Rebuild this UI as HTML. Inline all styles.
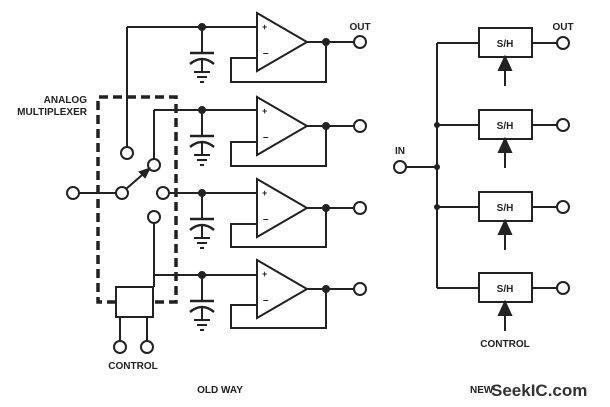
<!DOCTYPE html>
<html><head><style>html,body{margin:0;padding:0;background:#fff}svg{display:block}</style></head><body>
<svg width="610" height="407" viewBox="0 0 610 407" xmlns="http://www.w3.org/2000/svg" font-family="Liberation Sans, sans-serif" font-weight="bold" fill="none" stroke="#222" stroke-width="2">
<defs>
<g id="amp">
<path d="M0,-29 L0,29 L50,0 Z" fill="#fff"/>
<text x="5" y="-12" font-size="9" fill="#222" stroke="none">+</text>
<text x="6" y="14" font-size="10" fill="#222" stroke="none">–</text>
</g>
<g id="cap">
<line x1="0" y1="0" x2="0" y2="26"/>
<line x1="-12" y1="26" x2="12" y2="26" stroke-width="2.5"/>
<path d="M-12,37 Q0,27 12,37" stroke-width="2.5"/>
<line x1="0" y1="32" x2="0" y2="45"/>
<line x1="-8" y1="45" x2="8" y2="45"/>
<line x1="-5" y1="50" x2="5" y2="50"/>
<line x1="-2" y1="55" x2="2" y2="55"/>
</g>
</defs>
<!-- Old way rows -->
<g>
<line x1="127" y1="27" x2="257" y2="27"/><use href="#amp" x="257" y="42"/><use href="#cap" x="202" y="27"/>
<circle cx="202" cy="27" r="3" fill="#222"/>
<line x1="307" y1="42" x2="354" y2="42"/><circle cx="326" cy="42" r="3" fill="#222"/>
<polyline points="326,42 326,82 231,82 231,58 257,58"/><circle cx="360" cy="42" r="6" fill="#fff"/>
<line x1="127" y1="27" x2="127" y2="147"/><circle cx="127" cy="153" r="6" fill="#fff"/>
</g>
<g>
<line x1="154" y1="110" x2="257" y2="110"/><use href="#amp" x="257" y="126"/><use href="#cap" x="202" y="110"/>
<circle cx="202" cy="110" r="3" fill="#222"/>
<line x1="307" y1="126" x2="354" y2="126"/><circle cx="326" cy="126" r="3" fill="#222"/>
<polyline points="326,126 326,166 231,166 231,142 257,142"/><circle cx="360" cy="126" r="6" fill="#fff"/>
<line x1="154" y1="110" x2="154" y2="159"/><circle cx="154" cy="165" r="6" fill="#fff"/>
</g>
<g>
<line x1="169" y1="193" x2="257" y2="193"/><use href="#amp" x="257" y="208"/><use href="#cap" x="202" y="193"/>
<circle cx="202" cy="193" r="3" fill="#222"/>
<line x1="307" y1="208" x2="354" y2="208"/><circle cx="326" cy="208" r="3" fill="#222"/>
<polyline points="326,208 326,247 231,247 231,224 257,224"/><circle cx="360" cy="208" r="6" fill="#fff"/>
<circle cx="163" cy="193" r="6" fill="#fff"/>
</g>
<g>
<line x1="154" y1="275" x2="257" y2="275"/><use href="#amp" x="257" y="289"/><use href="#cap" x="202" y="275"/>
<circle cx="202" cy="275" r="3" fill="#222"/>
<line x1="307" y1="289" x2="354" y2="289"/><circle cx="326" cy="289" r="3" fill="#222"/>
<polyline points="326,289 326,328 231,328 231,305 257,305"/><circle cx="360" cy="289" r="6" fill="#fff"/>
<line x1="154" y1="223" x2="154" y2="287"/><circle cx="154" cy="217" r="6" fill="#fff"/>
</g>
<!-- switch -->
<line x1="79" y1="193" x2="116" y2="193"/><circle cx="73" cy="193" r="6" fill="#fff"/><circle cx="122" cy="193" r="6" fill="#fff"/>
<line x1="126" y1="189" x2="149" y2="169"/><path d="M149,169 L140,172 L145,177 Z" fill="#222"/>
<!-- dashed box -->
<path d="M116,302 H98 V97 H176 V302 H153" stroke-width="3.5" stroke-dasharray="9,5"/>
<rect x="116" y="287" width="37" height="30" fill="#fff"/>
<line x1="120" y1="317" x2="120" y2="341"/><line x1="147" y1="317" x2="147" y2="341"/>
<circle cx="120" cy="347" r="6" fill="#fff"/><circle cx="147" cy="347" r="6" fill="#fff"/>
<!-- new way -->
<line x1="437" y1="43" x2="437" y2="288"/>
<line x1="406" y1="167" x2="437" y2="167"/><circle cx="400" cy="167" r="6" fill="#fff"/>
<g fill="#222" stroke="none"><circle cx="437" cy="125" r="3"/><circle cx="437" cy="167" r="3"/><circle cx="437" cy="207" r="3"/></g>
<g id="sh">
<line x1="437" y1="43" x2="479" y2="43"/><rect x="479" y="28" width="53" height="29"/>
<line x1="532" y1="43" x2="557" y2="43"/><circle cx="563" cy="43" r="6" fill="#fff"/>
<line x1="505" y1="66" x2="505" y2="86"/><path d="M505,57 L499,70 L511,70 Z" fill="#222"/>
</g>
<use href="#sh" y="82"/><use href="#sh" y="164"/><use href="#sh" y="245"/>
<g fill="#222" stroke="none" font-size="10">
<text x="505" y="47" text-anchor="middle">S/H</text><text x="505" y="129" text-anchor="middle">S/H</text>
<text x="505" y="211" text-anchor="middle">S/H</text><text x="505" y="292" text-anchor="middle">S/H</text>
<text x="563" y="30" text-anchor="middle">OUT</text><text x="360" y="30" text-anchor="middle">OUT</text>
<text x="400" y="154" text-anchor="middle">IN</text>
<text x="87" y="103" text-anchor="end">ANALOG</text><text x="87" y="115" text-anchor="end">MULTIPLEXER</text>
<text x="133" y="369" text-anchor="middle">CONTROL</text>
<text x="505" y="347" text-anchor="middle">CONTROL</text>
<text x="220" y="393" text-anchor="middle">OLD WAY</text>
<text x="470" y="393">NEW</text>
<text x="491" y="396" font-size="17" fill="#333">SeekIC.com</text>
</g>
</svg>
</body></html>
